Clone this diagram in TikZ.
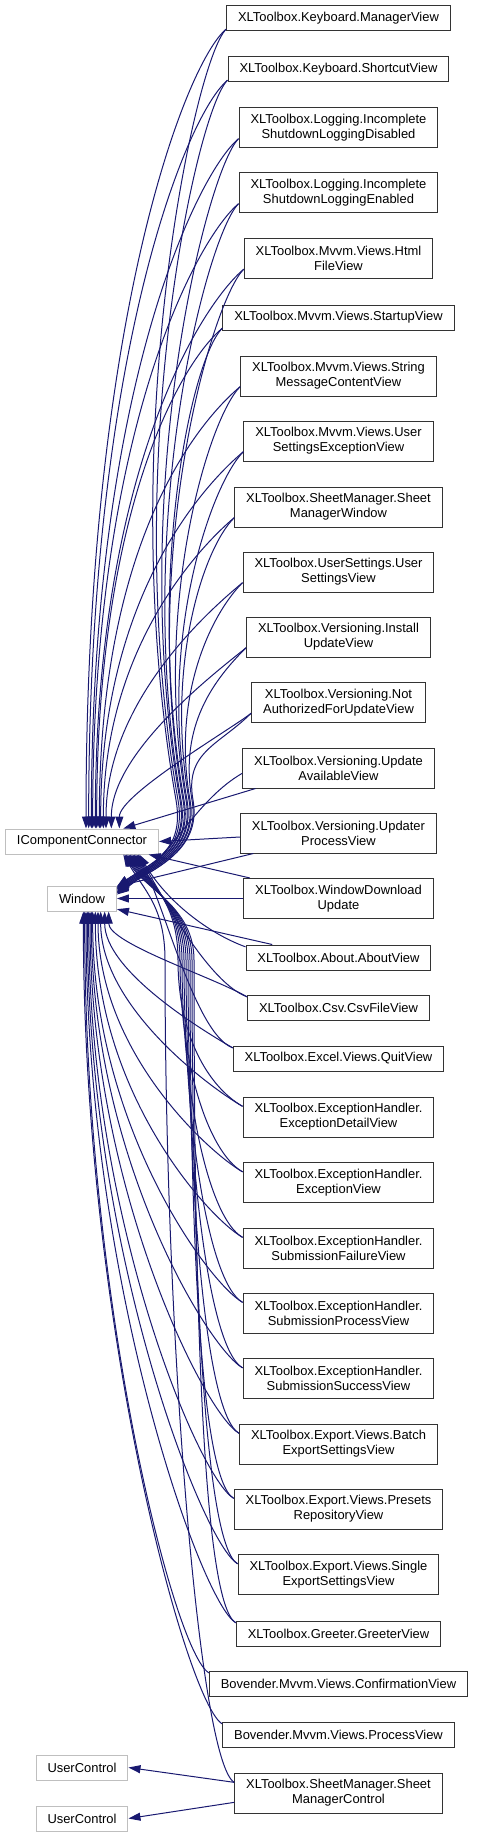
\documentclass[tikz,border=0pt]{standalone}
\usepackage{fontspec}
\setmainfont{Liberation Sans}
\usepackage{tikz}
\usetikzlibrary{arrows.meta}
\definecolor{edgeblue}{HTML}{191970}
\definecolor{basegray}{HTML}{BFBFBF}
\tikzset{
  cls/.style={draw=black!80, fill=white, line width=0.75pt, align=center, inner xsep=8.6pt, inner ysep=0pt, minimum height=18.75pt, font=\fontsize{9.7}{11.25}\selectfont},
  clstwo/.style={cls, minimum height=30pt},
  basecls/.style={cls, draw=basegray},
  inh/.style={draw=edgeblue, line width=0.75pt, -{Triangle[length=9pt,width=6pt]}},
}

\begin{document}
\begin{tikzpicture}[x=0.75pt,y=-0.75pt]
  \useasboundingbox (0,0) rectangle (476,1837); % 図全体の範囲
  \node[basecls] (icc) at (82,841.5) {IComponentConnector}; % 基底インターフェース
  \node[basecls] (win) at (82,898.5) {Window}; % 基底クラス Window
  \node[basecls] (uc1) at (82,1767.5) {UserControl}; % 1つ目の UserControl
  \node[basecls] (uc2) at (82,1818.5) {UserControl}; % 2つ目の UserControl
  \node[cls] (km) at (338.5,18.5) {XLToolbox.Keyboard.ManagerView};
  \node[cls] (ks) at (338.5,69.5) {XLToolbox.Keyboard.ShortcutView};
  \node[clstwo] (lsd) at (338.5,128) {XLToolbox.Logging.Incomplete\\ShutdownLoggingDisabled};
  \node[clstwo] (lse) at (338.5,193) {XLToolbox.Logging.Incomplete\\ShutdownLoggingEnabled};
  \node[clstwo] (hfv) at (338.5,258.5) {XLToolbox.Mvvm.Views.Html\\FileView};
  \node[cls] (suv) at (338.5,317.5) {XLToolbox.Mvvm.Views.StartupView};
  \node[clstwo] (smc) at (338.5,376) {XLToolbox.Mvvm.Views.String\\MessageContentView};
  \node[clstwo] (sev) at (338.5,441) {XLToolbox.Mvvm.Views.User\\SettingsExceptionView};
  \node[clstwo] (smw) at (338.5,507) {XLToolbox.SheetManager.Sheet\\ManagerWindow};
  \node[clstwo] (usv) at (338.5,572) {XLToolbox.UserSettings.User\\SettingsView};
  \node[clstwo] (iuv) at (338.5,637) {XLToolbox.Versioning.Install\\UpdateView};
  \node[clstwo] (nav) at (338.5,702.5) {XLToolbox.Versioning.Not\\AuthorizedForUpdateView};
  \node[clstwo] (uav) at (338.5,768) {XLToolbox.Versioning.Update\\AvailableView};
  \node[clstwo] (upv) at (338.5,833) {XLToolbox.Versioning.Updater\\ProcessView};
  \node[clstwo] (wdu) at (338.5,898.5) {XLToolbox.WindowDownload\\Update};
  \node[cls] (aav) at (338.5,957.5) {XLToolbox.About.AboutView};
  \node[cls] (csv) at (338.5,1007.5) {XLToolbox.Csv.CsvFileView};
  \node[cls] (qv) at (338.5,1058.5) {XLToolbox.Excel.Views.QuitView};
  \node[clstwo] (edv) at (338.5,1117) {XLToolbox.ExceptionHandler.\\ExceptionDetailView};
  \node[clstwo] (ev) at (338.5,1182.5) {XLToolbox.ExceptionHandler.\\ExceptionView};
  \node[clstwo] (sfv) at (338.5,1248) {XLToolbox.ExceptionHandler.\\SubmissionFailureView};
  \node[clstwo] (spv) at (338.5,1313) {XLToolbox.ExceptionHandler.\\SubmissionProcessView};
  \node[clstwo] (ssv) at (338.5,1378.5) {XLToolbox.ExceptionHandler.\\SubmissionSuccessView};
  \node[clstwo] (bes) at (338.5,1444) {XLToolbox.Export.Views.Batch\\ExportSettingsView};
  \node[clstwo] (prv) at (338.5,1509) {XLToolbox.Export.Views.Presets\\RepositoryView};
  \node[clstwo] (ses) at (338.5,1574.5) {XLToolbox.Export.Views.Single\\ExportSettingsView};
  \node[cls] (grv) at (338.5,1633.5) {XLToolbox.Greeter.GreeterView};
  \node[cls] (cfv) at (338.5,1683.5) {Bovender.Mvvm.Views.ConfirmationView};
  \node[cls] (pv) at (338.5,1734.5) {Bovender.Mvvm.Views.ProcessView};
  \node[clstwo] (smctl) at (338.5,1793) {XLToolbox.SheetManager.Sheet\\ManagerControl};
  \foreach \n/\dx/\lo in {km/3/1.6,ks/5/1.6,lsd/7/1.6,lse/8/1.6,hfv/10/1.6,suv/11/1.6,smc/13/1.6,sev/14/1.5,smw/16/1.4,usv/18/1.2,iuv/22/0.9,nav/28/0.5} % 上側から IComponentConnector へ
    \draw[inh] ([yshift=-8pt]\n.west) to[out=220,in=90,out looseness=0.3,out max distance=40pt,in looseness=\lo] ([xshift=\dx pt]icc.north);
  \foreach \n/\bx/\dy in {km/176/9,ks/178/9,lsd/180/8,lse/181/8,hfv/183/7,suv/184/7,smc/186/6,sev/187/6,smw/189/5,usv/190/5,iuv/192/4,nav/193/4} % 上側から束を通って Window へ
    \draw[inh] ([yshift=-8pt]\n.west) to[out=225,in=100,out distance=34pt,in looseness=1.2] (\bx,800) to[out=-80,in=35,out distance=40pt,in distance=30pt] ([yshift=\dy pt]win.east);
  \draw[inh] ([yshift=-4pt]uav.west) to[out=210,in=35,out distance=40pt,in distance=50pt] ([yshift=3pt]win.east); % 曲線の辺
  \draw[inh] ([xshift=10pt]uav.south west) -- ([xshift=31pt]icc.north); % 直線の辺
  \draw[inh] ([yshift=-3pt]upv.west) -- (icc.east); % 水平の辺
  \draw[inh] ([xshift=10pt]upv.south west) -- ([yshift=9pt]win.east); % 斜めの辺
  \draw[inh] ([xshift=5pt]wdu.north west) -- ([xshift=50pt]icc.south); % 斜めの辺
  \draw[inh] (wdu.west) -- (win.east); % 水平の辺
  \draw[inh] ([xshift=20pt]aav.north west) -- ([yshift=-8pt]win.east); % 斜めの辺
  \foreach \n/\dx in {aav/43,csv/42,qv/41} % 近い下側から IComponentConnector へ
    \draw[inh] ([yshift=8pt]\n.west) to[out=160,in=-60,out distance=30pt,in distance=40pt] ([xshift=\dx pt]icc.south);
  \foreach \n/\bx/\dx in {edv/178/40,ev/180/39,sfv/182/38,spv/184/37,ssv/186/36,bes/188/35,prv/190/34,ses/192/33,grv/194/32,smctl/165/31} % 下側から束を通って IComponentConnector へ
    \draw[inh] ([yshift=8pt]\n.west) to[out=150,in=-90,out distance=30pt,in looseness=1.2] (\bx,960) to[out=90,in=-60,out distance=40pt,in distance=30pt] ([xshift=\dx pt]icc.south);
  \foreach \n/\dx/\lo in {csv/20/0.5,qv/17/0.8,edv/14/1.0,ev/12/1.2,sfv/10/1.3,spv/8/1.3,ssv/7/1.3,bes/6/1.3,prv/5/1.3,ses/4/1.3,grv/3/1.3,cfv/2/1.3,pv/1/1.3} % 下側から Window へ
    \draw[inh] ([yshift=8pt]\n.west) to[out=150,in=-90,out distance=30pt,in looseness=\lo] ([xshift=\dx pt]win.south);
  \draw[inh] ([yshift=8pt]smctl.west) -- (uc1.east); % 1つ目の UserControl へ
  \draw[inh] ([yshift=-7pt]smctl.west) -- (uc2.east); % 2つ目の UserControl へ
\end{tikzpicture}
\end{document}
